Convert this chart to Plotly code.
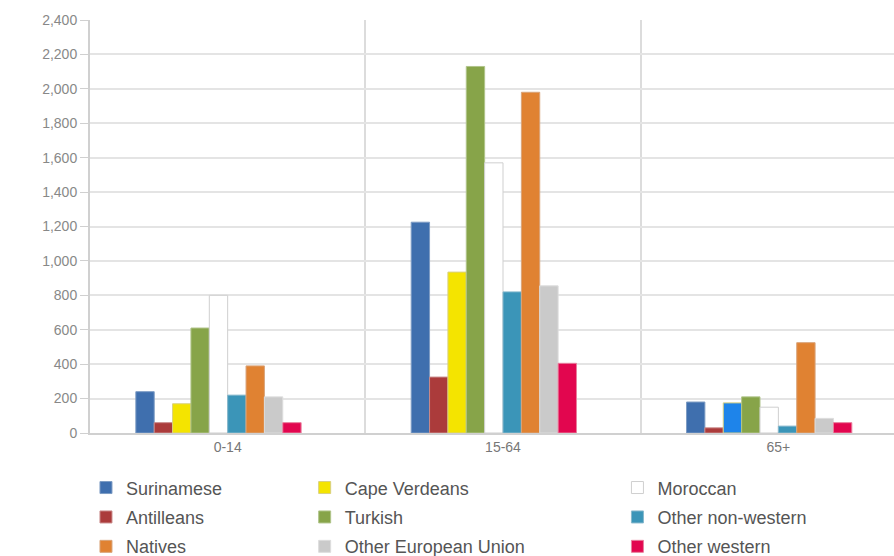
import plotly.graph_objects as go

age_groups = ["0-14", "15-64", "65+"]

series_names = ["Surinamese", "Antilleans", "Cape Verdeans", "Turkish", "Moroccan",
                "Other non-western", "Natives", "Other European Union", "Other western"]

surinamese = [240, 1225, 180]
antilleans = [60, 325, 30]
cape_verdeans = [170, 935, 175]
turkish = [610, 2130, 210]
moroccan = [800, 1570, 150]
other_non_western = [220, 820, 40]
natives = [390, 1980, 525]
other_eu = [210, 855, 85]
other_western = [60, 405, 60]

values = [surinamese, antilleans, cape_verdeans, turkish, moroccan,
          other_non_western, natives, other_eu, other_western]

colors = ["#3f6fae", "#ab3b3b", ["#f4e400", "#f4e400", "#1e84ea"], "#87a449", "#ffffff",
          "#3b95b8", "#e08232", "#cacaca", "#e2064f"]
line_colors = ["#7d9cc4", "#c98a8a", "#d8d080", "#b0c48a", "#cfcfcf",
               "#86b8cc", "#d9a47a", "#dddddd", "#e8809e"]

# legend column assignment (3 columns, 3 rows each)
legend_ids = ["legend", "legend", "legend2", "legend2", "legend3",
              "legend3", "legend", "legend2", "legend3"]
legend_rank = [1, 2, 1, 2, 1, 2, 3, 3, 3]

tick_vals = list(range(0, 2401, 200))
tick_text = [f"{v:,}" for v in tick_vals]

fig = go.Figure()
for i, name in enumerate(series_names):
    fig.add_trace(go.Bar(
        x=age_groups, y=values[i], name=name,
        marker=dict(color=colors[i], line=dict(color=line_colors[i], width=1)),
        legend=legend_ids[i], legendrank=legend_rank[i],
        legendgroup=name,
    ))
# empty tenth slot that the original layout reserves in each group
fig.add_trace(go.Bar(x=age_groups, y=[None, None, None], showlegend=False,
                     hoverinfo="skip", marker=dict(color="rgba(0,0,0,0)")))

legend_common = dict(orientation="v", yanchor="top", y=-0.088, xanchor="left",
                     font=dict(family="Liberation Sans, Arial", size=18, color="#555555"),
                     bgcolor="rgba(0,0,0,0)", traceorder="grouped", tracegroupgap=3)

fig.update_layout(
    width=894, height=556,
    margin=dict(l=90, r=0, t=20, b=123, autoexpand=False),
    paper_bgcolor="white", plot_bgcolor="white",
    barmode="group", bargap=0.333, bargroupgap=0,
    font=dict(family="Liberation Sans, Arial", color="#777777"),
    xaxis=dict(type="category", range=[-0.5, 2.42], tickson="boundaries",
               showgrid=True, gridcolor="#dcdcdc", gridwidth=2,
               ticks="", showline=True, linecolor="#d0d0d0", linewidth=2,
               tickfont=dict(size=14, color="#777777")),
    yaxis=dict(range=[0, 2400], tickvals=tick_vals, ticktext=tick_text,
               showgrid=True, gridcolor="#e4e4e4", gridwidth=2,
               showline=True, linecolor="#d0d0d0", linewidth=2,
               ticks="outside", ticklen=8, tickcolor="#d0d0d0",
               tickfont=dict(size=14, color="#888888"), zeroline=False),
    showlegend=True,
    legend=dict(x=-0.005, **legend_common),
    legend2=dict(x=0.267, **legend_common),
    legend3=dict(x=0.656, **legend_common),
)

fig.write_html("out.html")
